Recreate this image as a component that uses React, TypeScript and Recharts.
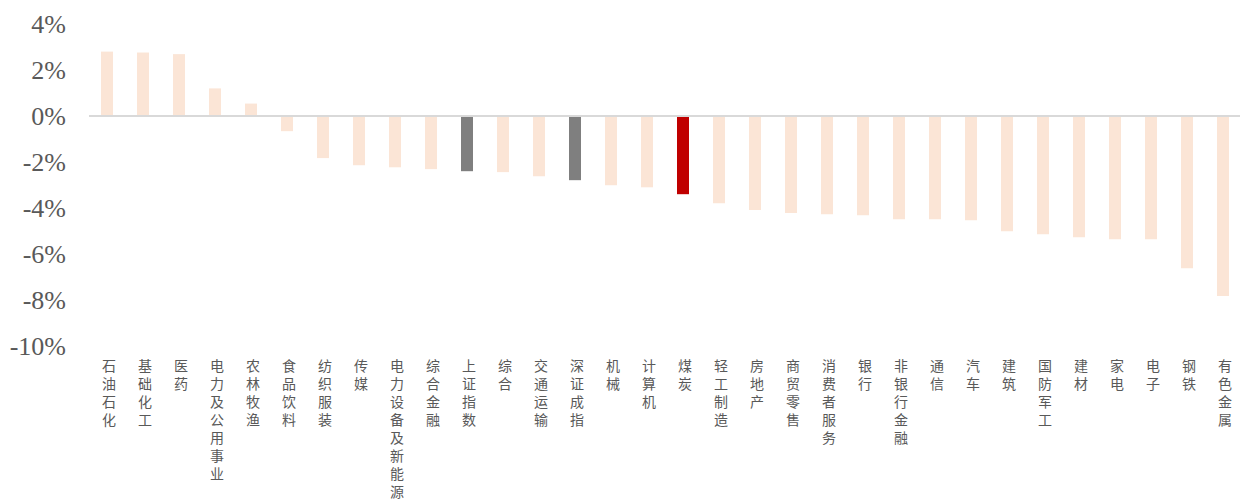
import React from 'react';
import { BarChart, Bar, XAxis, YAxis, Cell, ReferenceLine } from 'recharts';

const categories = [
  '石油石化', '基础化工', '医药', '电力及公用事业', '农林牧渔', '食品饮料', '纺织服装', '传媒',
  '电力设备及新能源', '综合金融', '上证指数', '综合', '交通运输', '深证成指', '机械', '计算机',
  '煤炭', '轻工制造', '房地产', '商贸零售', '消费者服务', '银行', '非银行金融', '通信',
  '汽车', '建筑', '国防军工', '建材', '家电', '电子', '钢铁', '有色金属',
];

const returns = [
  2.8, 2.76, 2.69, 1.2, 0.54, -0.66, -1.83, -2.14,
  -2.23, -2.31, -2.4, -2.44, -2.62, -2.79, -3.01, -3.1,
  -3.4, -3.79, -4.09, -4.22, -4.27, -4.31, -4.49, -4.49,
  -4.53, -5.01, -5.14, -5.27, -5.36, -5.36, -6.62, -7.83,
];

const yTicks = [-10, -8, -6, -4, -2, 0, 2, 4];

const indexNames = ['上证指数', '深证成指'];
const focusName = '煤炭';

const data = categories.map((name, i) => ({ name, value: returns[i] }));

const barColor = (name: string) => {
  if (name === focusName) return '#C00000';
  if (indexNames.includes(name)) return '#7F7F7F';
  return '#FBE5D6';
};

const VerticalTick = (props: any) => {
  const { x, y, payload } = props;
  return (
    <text
      x={x + 2}
      y={y + 13}
      fill="#595959"
      fontSize={14}
      fontFamily='"Noto Sans CJK SC", sans-serif'
      style={{ writingMode: 'vertical-rl', letterSpacing: '4px' }}
    >
      {payload.value}
    </text>
  );
};

export default function App() {
  return (
    <div style={{ position: 'absolute', left: 0, top: 0, width: 1240, height: 501, overflow: 'hidden', background: '#fff' }}>
      <BarChart
        width={1241}
        height={501}
        data={data}
        margin={{ top: 24, right: 0, bottom: 0, left: 0 }}
        barSize={12}
      >
        <XAxis
          dataKey="name"
          interval={0}
          axisLine={false}
          tickLine={false}
          height={155}
          tickMargin={0}
          tickSize={0}
          tick={<VerticalTick />}
        />
        <YAxis
          width={89}
          domain={[-10, 4]}
          ticks={yTicks}
          axisLine={false}
          tickLine={false}
          tickSize={0}
          tickMargin={23}
          tickFormatter={(v: number) => `${v}%`}
          tick={{ fill: '#595959', fontSize: 26, fontFamily: '"Liberation Serif", serif' }}
        />
        <Bar dataKey="value" isAnimationActive={false}>
          {data.map((d) => (
            <Cell key={d.name} fill={barColor(d.name)} />
          ))}
        </Bar>
        <ReferenceLine y={0} stroke="#D9D9D9" strokeWidth={2} />
      </BarChart>
    </div>
  );
}
